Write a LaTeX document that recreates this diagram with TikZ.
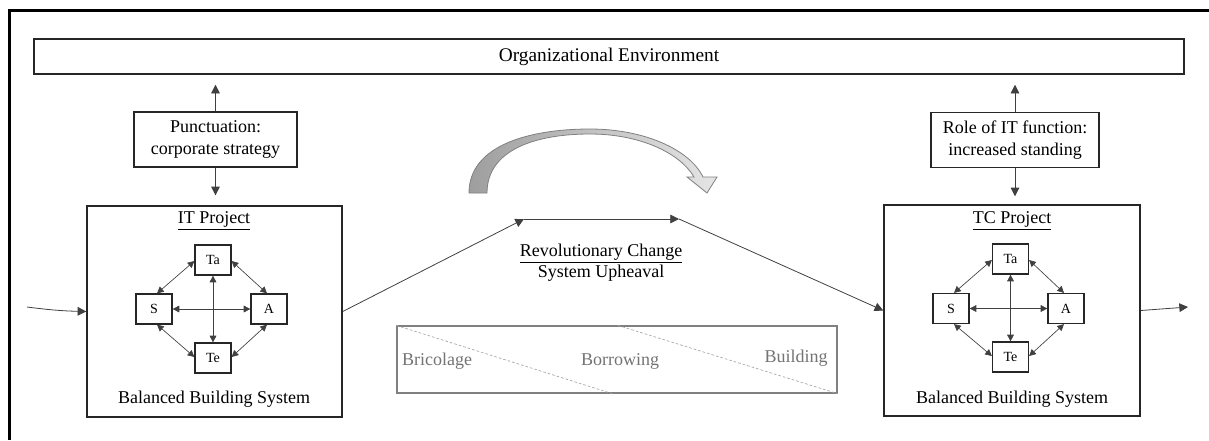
\documentclass[tikz,border=0pt]{standalone}
\usepackage{fontspec}
\setmainfont{Liberation Serif}
\usetikzlibrary{arrows.meta,calc}
\begin{document}
\begin{tikzpicture}[x=0.75pt,y=-0.75pt,
  txt/.style={font=\fontsize{13.5}{16}\selectfont},
  framelines/.style={line width=1.9pt, black},
  envbox/.style={draw=black!85, line width=1.1pt, minimum width=1150*0.75pt, minimum height=35*0.75pt, inner sep=0pt, font=\fontsize{14.5}{17}\selectfont},
  labelbox/.style={draw=black!85, line width=1.1pt, minimum height=55*0.75pt, inner sep=0pt, align=center, txt},
  projbox/.style={draw=black!85, line width=1.1pt, minimum width=255*0.75pt, minimum height=211*0.75pt, inner sep=0pt},
  elem/.style={draw=black!85, line width=0.9pt, minimum width=36*0.75pt, minimum height=30*0.75pt, inner sep=0pt, font=\fontsize{10.5}{12}\selectfont},
  conn/.style={draw=black!75, line width=0.6pt, -{Triangle[length=6.5pt,width=6.5pt]}},
  dconn/.style={draw=black!75, line width=0.5pt, {Triangle[length=5pt,width=5pt]}-{Triangle[length=5pt,width=5pt]}},
  greybox/.style={draw=black!50, line width=0.9pt, minimum width=440*0.75pt, minimum height=67*0.75pt, inner sep=0pt},
  greytxt/.style={text=black!55, txt},
  dashline/.style={draw=black!35, line width=0.5pt, dashed, dash pattern=on 2pt off 1.5pt}
]
\useasboundingbox (0,0) rectangle (1209,440);
% outer frame (partial)
\draw[framelines] (9.5,440) -- (9.5,10.5) -- (1209,10.5);

% environment
\node[envbox] (env) at (609,56.5) {Organizational Environment};

% punctuation boxes
\node[labelbox, minimum width=163*0.75pt] (punct) at (215.5,139.5) {Punctuation:\\corporate strategy};
\node[labelbox, minimum width=168*0.75pt] (role) at (1015,140) {Role of IT function:\\increased standing};

% project boxes
\node[projbox] (itp) at (214.5,311.5) {};
\node[projbox, minimum width=256*0.75pt] (tcp) at (1012,310.5) {};

\node[txt] (ittitle) at (214,221) {\underline{IT Project}};
\node[txt] (itbal) at (214,399) {Balanced Building System};
\node[txt] (tctitle) at (1012,221) {\underline{TC Project}};
\node[txt] (tcbal) at (1012,399) {Balanced Building System};

% IT inner
\node[elem] (ta1) at (213,260) {Ta};
\node[elem] (s1) at (154,309) {S};
\node[elem] (a1) at (269,309) {A};
\node[elem] (te1) at (213,358) {Te};
% TC inner
\node[elem] (ta2) at (1010.5,259) {Ta};
\node[elem] (s2) at (951,308.5) {S};
\node[elem] (a2) at (1066,308.5) {A};
\node[elem] (te2) at (1010.5,357) {Te};

\foreach \i in {1,2}{
  \draw[dconn] (s\i.east) -- (a\i.west);
  \draw[dconn] (ta\i.south) -- (te\i.north);
  \draw[dconn] ([xshift=2.25pt]s\i.north) -- ([yshift=-0.75pt]ta\i.west);
  \draw[dconn] ([yshift=-0.75pt]ta\i.east) -- ([xshift=-1.5pt]a\i.north);
  \draw[dconn] ([xshift=2.25pt]s\i.south) -- ([yshift=0.75pt]te\i.west);
  \draw[dconn] ([xshift=-1.5pt]a\i.south) -- ([yshift=0.75pt]te\i.east);
}

% vertical arrows to environment and project boxes
\draw[conn, shorten >=7.5pt] (punct.north) -- (punct.north |- env.south);
\draw[conn, shorten >=7.5pt] (punct.south) -- (punct.south |- itp.north);
\draw[conn, shorten >=7.5pt] (role.north) -- (role.north |- env.south);
\draw[conn, shorten >=6pt] (role.south) -- (role.south |- tcp.north);

% main flow
\coordinate (in) at (27,307);
\coordinate (p1) at (524,219);
\coordinate (p2) at (679,219);
\coordinate (out) at (1188,307);
\draw[conn] (in) to[bend right=3] (itp.west);
\draw[conn] (itp.east) -- (p1);
\draw[conn] (p1) -- (p2);
\draw[conn] (p2) -- (tcp.west);
\draw[conn] (tcp.east) -- (out);

\node[txt, align=center] (rev) at (601,263) {\underline{Revolutionary Change}\\System Upheaval};

% curved grey arrow
\shade[left color=black!38, right color=black!10, draw=black!50, line width=0.6pt]
  (469,193) .. controls (469,145) and (530,129) .. (590,129)
  .. controls (645,129) and (690,150) .. (703,177)
  -- (717,177) -- (707,193) -- (687,177) -- (694,177)
  .. controls (680,153) and (640,134) .. (590,134)
  .. controls (535,134) and (487,150) .. (487,193) -- cycle;

% bricolage box
\node[greybox] (bbox) at (617,359.5) {};
\draw[dashline] (bbox.north west) -- ($(bbox.south west)!0.489!(bbox.south east)$);
\draw[dashline] ($(bbox.north west)!0.502!(bbox.north east)$) -- (bbox.south east);
\node[greytxt] (bric) at (437,361) {Bricolage};
\node[greytxt] (borr) at (620,361) {Borrowing};
\node[greytxt] (build) at (796,358) {Building};
\end{tikzpicture}
\end{document}
